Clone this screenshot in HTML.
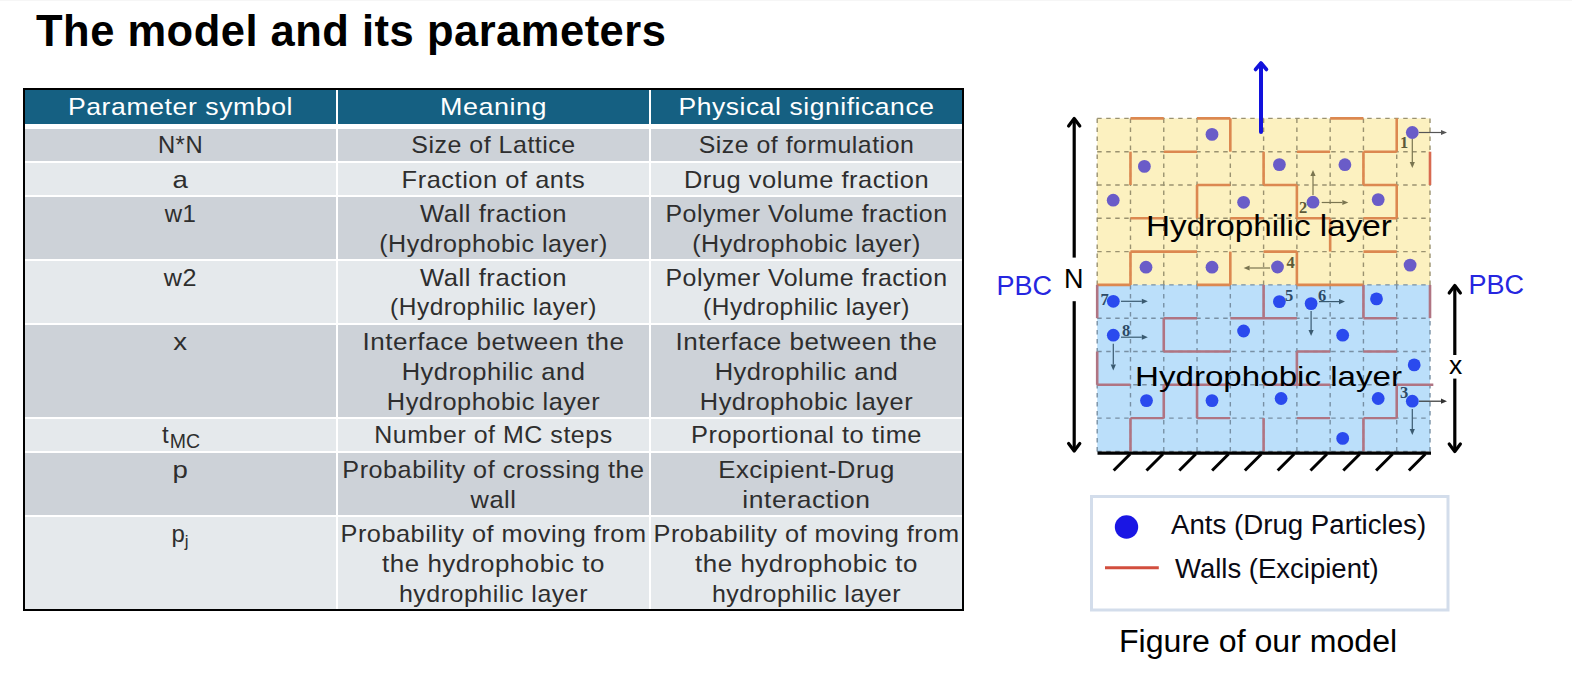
<!DOCTYPE html>
<html><head><meta charset="utf-8">
<style>
html,body{margin:0;padding:0;background:#fff;}
body{width:1572px;height:691px;position:relative;overflow:hidden;font-family:"Liberation Sans",sans-serif;}
.topline{position:absolute;left:0;top:0;width:1572px;height:1px;background:#f6f6f6;}
.title{position:absolute;left:35px;top:0px;font-weight:bold;font-size:45px;line-height:60px;letter-spacing:-0.25px;color:#000;white-space:nowrap;}
.tbl{position:absolute;left:23px;top:88px;width:937px;height:519px;border:2px solid #000;background:#fff;}
.band{position:absolute;left:0;width:937px;}
.vdiv{position:absolute;top:0;width:2px;height:519px;background:#fff;}
.cell{position:absolute;text-align:center;font-size:23.5px;line-height:30px;color:#111;white-space:nowrap;letter-spacing:0.9px;}
.hcell{color:#fff;}
</style></head><body>
<div class="topline"></div>

<div class="tbl">
<div class="band" style="top:0;height:34px;background:#156082"></div>
<div class="band" style="top:39px;height:32px;background:#CDD2D8"></div>
<div class="band" style="top:73px;height:32px;background:#E5E9EC"></div>
<div class="band" style="top:107px;height:62px;background:#CDD2D8"></div>
<div class="band" style="top:171px;height:62px;background:#E5E9EC"></div>
<div class="band" style="top:235px;height:92px;background:#CDD2D8"></div>
<div class="band" style="top:329px;height:32px;background:#E5E9EC"></div>
<div class="band" style="top:363px;height:62px;background:#CDD2D8"></div>
<div class="band" style="top:427px;height:92px;background:#E5E9EC"></div>
<div class="vdiv" style="left:311px"></div>
<div class="vdiv" style="left:624px"></div>
</div>
<svg style="position:absolute;left:0;top:0" width="1572" height="691" viewBox="0 0 1572 691">
<rect x="1097.2" y="118.4" width="332.8" height="166.5" fill="#FCF1C0"/>
<rect x="1097.2" y="284.9" width="332.8" height="166.5" fill="#BBDFFA"/>
<line x1="1097.2" y1="118.4" x2="1097.2" y2="284.9" stroke="#9A9270" stroke-width="1.4" stroke-dasharray="4.5 4.5"/>
<line x1="1097.2" y1="284.9" x2="1097.2" y2="451.4" stroke="#7890A4" stroke-width="1.4" stroke-dasharray="4.5 4.5"/>
<line x1="1130.48" y1="118.4" x2="1130.48" y2="284.9" stroke="#9A9270" stroke-width="1.4" stroke-dasharray="4.5 4.5"/>
<line x1="1130.48" y1="284.9" x2="1130.48" y2="451.4" stroke="#7890A4" stroke-width="1.4" stroke-dasharray="4.5 4.5"/>
<line x1="1163.76" y1="118.4" x2="1163.76" y2="284.9" stroke="#9A9270" stroke-width="1.4" stroke-dasharray="4.5 4.5"/>
<line x1="1163.76" y1="284.9" x2="1163.76" y2="451.4" stroke="#7890A4" stroke-width="1.4" stroke-dasharray="4.5 4.5"/>
<line x1="1197.04" y1="118.4" x2="1197.04" y2="284.9" stroke="#9A9270" stroke-width="1.4" stroke-dasharray="4.5 4.5"/>
<line x1="1197.04" y1="284.9" x2="1197.04" y2="451.4" stroke="#7890A4" stroke-width="1.4" stroke-dasharray="4.5 4.5"/>
<line x1="1230.3200000000002" y1="118.4" x2="1230.3200000000002" y2="284.9" stroke="#9A9270" stroke-width="1.4" stroke-dasharray="4.5 4.5"/>
<line x1="1230.3200000000002" y1="284.9" x2="1230.3200000000002" y2="451.4" stroke="#7890A4" stroke-width="1.4" stroke-dasharray="4.5 4.5"/>
<line x1="1263.6000000000001" y1="118.4" x2="1263.6000000000001" y2="284.9" stroke="#9A9270" stroke-width="1.4" stroke-dasharray="4.5 4.5"/>
<line x1="1263.6000000000001" y1="284.9" x2="1263.6000000000001" y2="451.4" stroke="#7890A4" stroke-width="1.4" stroke-dasharray="4.5 4.5"/>
<line x1="1296.88" y1="118.4" x2="1296.88" y2="284.9" stroke="#9A9270" stroke-width="1.4" stroke-dasharray="4.5 4.5"/>
<line x1="1296.88" y1="284.9" x2="1296.88" y2="451.4" stroke="#7890A4" stroke-width="1.4" stroke-dasharray="4.5 4.5"/>
<line x1="1330.16" y1="118.4" x2="1330.16" y2="284.9" stroke="#9A9270" stroke-width="1.4" stroke-dasharray="4.5 4.5"/>
<line x1="1330.16" y1="284.9" x2="1330.16" y2="451.4" stroke="#7890A4" stroke-width="1.4" stroke-dasharray="4.5 4.5"/>
<line x1="1363.44" y1="118.4" x2="1363.44" y2="284.9" stroke="#9A9270" stroke-width="1.4" stroke-dasharray="4.5 4.5"/>
<line x1="1363.44" y1="284.9" x2="1363.44" y2="451.4" stroke="#7890A4" stroke-width="1.4" stroke-dasharray="4.5 4.5"/>
<line x1="1396.72" y1="118.4" x2="1396.72" y2="284.9" stroke="#9A9270" stroke-width="1.4" stroke-dasharray="4.5 4.5"/>
<line x1="1396.72" y1="284.9" x2="1396.72" y2="451.4" stroke="#7890A4" stroke-width="1.4" stroke-dasharray="4.5 4.5"/>
<line x1="1430.0" y1="118.4" x2="1430.0" y2="284.9" stroke="#9A9270" stroke-width="1.4" stroke-dasharray="4.5 4.5"/>
<line x1="1430.0" y1="284.9" x2="1430.0" y2="451.4" stroke="#7890A4" stroke-width="1.4" stroke-dasharray="4.5 4.5"/>
<line x1="1097.2" y1="118.4" x2="1430.0" y2="118.4" stroke="#9A9270" stroke-width="1.4" stroke-dasharray="4.5 4.5"/>
<line x1="1097.2" y1="151.7" x2="1430.0" y2="151.7" stroke="#9A9270" stroke-width="1.4" stroke-dasharray="4.5 4.5"/>
<line x1="1097.2" y1="185.0" x2="1430.0" y2="185.0" stroke="#9A9270" stroke-width="1.4" stroke-dasharray="4.5 4.5"/>
<line x1="1097.2" y1="218.3" x2="1430.0" y2="218.3" stroke="#9A9270" stroke-width="1.4" stroke-dasharray="4.5 4.5"/>
<line x1="1097.2" y1="251.6" x2="1430.0" y2="251.6" stroke="#9A9270" stroke-width="1.4" stroke-dasharray="4.5 4.5"/>
<line x1="1097.2" y1="284.9" x2="1430.0" y2="284.9" stroke="#7890A4" stroke-width="1.4" stroke-dasharray="4.5 4.5"/>
<line x1="1097.2" y1="318.2" x2="1430.0" y2="318.2" stroke="#7890A4" stroke-width="1.4" stroke-dasharray="4.5 4.5"/>
<line x1="1097.2" y1="351.5" x2="1430.0" y2="351.5" stroke="#7890A4" stroke-width="1.4" stroke-dasharray="4.5 4.5"/>
<line x1="1097.2" y1="384.79999999999995" x2="1430.0" y2="384.79999999999995" stroke="#7890A4" stroke-width="1.4" stroke-dasharray="4.5 4.5"/>
<line x1="1097.2" y1="418.1" x2="1430.0" y2="418.1" stroke="#7890A4" stroke-width="1.4" stroke-dasharray="4.5 4.5"/>
<line x1="1097.2" y1="451.4" x2="1430.0" y2="451.4" stroke="#7890A4" stroke-width="1.4" stroke-dasharray="4.5 4.5"/>
<line x1="1130.48" y1="118.4" x2="1163.76" y2="118.4" stroke="#DC8850" stroke-width="2.6"/>
<line x1="1197.04" y1="118.4" x2="1230.3200000000002" y2="118.4" stroke="#DC8850" stroke-width="2.6"/>
<line x1="1330.16" y1="118.4" x2="1363.44" y2="118.4" stroke="#DC8850" stroke-width="2.6"/>
<line x1="1163.76" y1="151.7" x2="1197.04" y2="151.7" stroke="#DC8850" stroke-width="2.6"/>
<line x1="1296.88" y1="151.7" x2="1330.16" y2="151.7" stroke="#DC8850" stroke-width="2.6"/>
<line x1="1363.44" y1="151.7" x2="1396.72" y2="151.7" stroke="#DC8850" stroke-width="2.6"/>
<line x1="1197.04" y1="185.0" x2="1230.3200000000002" y2="185.0" stroke="#DC8850" stroke-width="2.6"/>
<line x1="1263.6000000000001" y1="185.0" x2="1296.88" y2="185.0" stroke="#DC8850" stroke-width="2.6"/>
<line x1="1363.44" y1="185.0" x2="1396.72" y2="185.0" stroke="#DC8850" stroke-width="2.6"/>
<line x1="1130.48" y1="218.3" x2="1163.76" y2="218.3" stroke="#DC8850" stroke-width="2.6"/>
<line x1="1230.3200000000002" y1="218.3" x2="1263.6000000000001" y2="218.3" stroke="#DC8850" stroke-width="2.6"/>
<line x1="1296.88" y1="218.3" x2="1330.16" y2="218.3" stroke="#DC8850" stroke-width="2.6"/>
<line x1="1363.44" y1="218.3" x2="1396.72" y2="218.3" stroke="#DC8850" stroke-width="2.6"/>
<line x1="1130.48" y1="251.6" x2="1197.04" y2="251.6" stroke="#DC8850" stroke-width="2.6"/>
<line x1="1263.6000000000001" y1="251.6" x2="1296.88" y2="251.6" stroke="#DC8850" stroke-width="2.6"/>
<line x1="1363.44" y1="251.6" x2="1396.72" y2="251.6" stroke="#DC8850" stroke-width="2.6"/>
<line x1="1097.2" y1="284.9" x2="1130.48" y2="284.9" stroke="#DC8850" stroke-width="2.6"/>
<line x1="1197.04" y1="284.9" x2="1230.3200000000002" y2="284.9" stroke="#DC8850" stroke-width="2.6"/>
<line x1="1296.88" y1="284.9" x2="1363.44" y2="284.9" stroke="#DC8850" stroke-width="2.6"/>
<line x1="1230.3200000000002" y1="118.4" x2="1230.3200000000002" y2="151.7" stroke="#DC8850" stroke-width="2.6"/>
<line x1="1396.72" y1="118.4" x2="1396.72" y2="151.7" stroke="#DC8850" stroke-width="2.6"/>
<line x1="1130.48" y1="151.7" x2="1130.48" y2="185.0" stroke="#DC8850" stroke-width="2.6"/>
<line x1="1263.6000000000001" y1="151.7" x2="1263.6000000000001" y2="185.0" stroke="#DC8850" stroke-width="2.6"/>
<line x1="1363.44" y1="151.7" x2="1363.44" y2="185.0" stroke="#DC8850" stroke-width="2.6"/>
<line x1="1197.04" y1="185.0" x2="1197.04" y2="218.3" stroke="#DC8850" stroke-width="2.6"/>
<line x1="1296.88" y1="185.0" x2="1296.88" y2="218.3" stroke="#DC8850" stroke-width="2.6"/>
<line x1="1396.72" y1="185.0" x2="1396.72" y2="218.3" stroke="#DC8850" stroke-width="2.6"/>
<line x1="1330.16" y1="218.3" x2="1330.16" y2="251.6" stroke="#DC8850" stroke-width="2.6"/>
<line x1="1130.48" y1="251.6" x2="1130.48" y2="284.9" stroke="#DC8850" stroke-width="2.6"/>
<line x1="1230.3200000000002" y1="251.6" x2="1230.3200000000002" y2="284.9" stroke="#DC8850" stroke-width="2.6"/>
<line x1="1296.88" y1="251.6" x2="1296.88" y2="284.9" stroke="#DC8850" stroke-width="2.6"/>
<line x1="1163.76" y1="318.2" x2="1197.04" y2="318.2" stroke="#B07482" stroke-width="2.4"/>
<line x1="1230.3200000000002" y1="318.2" x2="1296.88" y2="318.2" stroke="#B07482" stroke-width="2.4"/>
<line x1="1363.44" y1="318.2" x2="1396.72" y2="318.2" stroke="#B07482" stroke-width="2.4"/>
<line x1="1163.76" y1="351.5" x2="1230.3200000000002" y2="351.5" stroke="#B07482" stroke-width="2.4"/>
<line x1="1296.88" y1="351.5" x2="1330.16" y2="351.5" stroke="#B07482" stroke-width="2.4"/>
<line x1="1363.44" y1="351.5" x2="1396.72" y2="351.5" stroke="#B07482" stroke-width="2.4"/>
<line x1="1097.2" y1="384.79999999999995" x2="1130.48" y2="384.79999999999995" stroke="#B07482" stroke-width="2.4"/>
<line x1="1163.76" y1="384.79999999999995" x2="1230.3200000000002" y2="384.79999999999995" stroke="#B07482" stroke-width="2.4"/>
<line x1="1263.6000000000001" y1="384.79999999999995" x2="1330.16" y2="384.79999999999995" stroke="#B07482" stroke-width="2.4"/>
<line x1="1396.72" y1="384.79999999999995" x2="1433.328" y2="384.79999999999995" stroke="#B07482" stroke-width="2.4"/>
<line x1="1130.48" y1="418.1" x2="1163.76" y2="418.1" stroke="#B07482" stroke-width="2.4"/>
<line x1="1197.04" y1="418.1" x2="1230.3200000000002" y2="418.1" stroke="#B07482" stroke-width="2.4"/>
<line x1="1296.88" y1="418.1" x2="1330.16" y2="418.1" stroke="#B07482" stroke-width="2.4"/>
<line x1="1363.44" y1="418.1" x2="1396.72" y2="418.1" stroke="#B07482" stroke-width="2.4"/>
<line x1="1097.2" y1="284.9" x2="1097.2" y2="318.2" stroke="#B07482" stroke-width="2.6"/>
<line x1="1263.6000000000001" y1="284.9" x2="1263.6000000000001" y2="318.2" stroke="#B07482" stroke-width="2.6"/>
<line x1="1363.44" y1="284.9" x2="1363.44" y2="318.2" stroke="#B07482" stroke-width="2.6"/>
<line x1="1430.0" y1="284.9" x2="1430.0" y2="318.2" stroke="#B07482" stroke-width="2.6"/>
<line x1="1163.76" y1="318.2" x2="1163.76" y2="351.5" stroke="#B07482" stroke-width="2.6"/>
<line x1="1097.2" y1="351.5" x2="1097.2" y2="384.79999999999995" stroke="#B07482" stroke-width="2.6"/>
<line x1="1296.88" y1="351.5" x2="1296.88" y2="384.79999999999995" stroke="#B07482" stroke-width="2.6"/>
<line x1="1163.76" y1="384.79999999999995" x2="1163.76" y2="418.1" stroke="#B07482" stroke-width="2.6"/>
<line x1="1197.04" y1="384.79999999999995" x2="1197.04" y2="418.1" stroke="#B07482" stroke-width="2.6"/>
<line x1="1396.72" y1="384.79999999999995" x2="1396.72" y2="418.1" stroke="#B07482" stroke-width="2.6"/>
<line x1="1130.48" y1="418.1" x2="1130.48" y2="451.4" stroke="#B07482" stroke-width="2.6"/>
<line x1="1263.6000000000001" y1="418.1" x2="1263.6000000000001" y2="451.4" stroke="#B07482" stroke-width="2.6"/>
<line x1="1363.44" y1="418.1" x2="1363.44" y2="451.4" stroke="#B07482" stroke-width="2.6"/>
<line x1="1430.0" y1="151.7" x2="1430.0" y2="185.0" stroke="#D86A50" stroke-width="2.6"/>
<circle cx="1212.0" cy="134.4" r="6.4" fill="#6A5CC8"/>
<circle cx="1144.4" cy="166.4" r="6.4" fill="#6A5CC8"/>
<circle cx="1113.2" cy="200.2" r="6.4" fill="#6A5CC8"/>
<circle cx="1243.6" cy="202.3" r="6.4" fill="#6A5CC8"/>
<circle cx="1146.0" cy="267.2" r="6.4" fill="#6A5CC8"/>
<circle cx="1212.0" cy="267.2" r="6.4" fill="#6A5CC8"/>
<circle cx="1412.3" cy="132.5" r="6.4" fill="#6A5CC8"/>
<circle cx="1279.4" cy="164.6" r="6.4" fill="#6A5CC8"/>
<circle cx="1344.9" cy="164.7" r="6.4" fill="#6A5CC8"/>
<circle cx="1313" cy="202.2" r="6.4" fill="#6A5CC8"/>
<circle cx="1378.2" cy="199.6" r="6.4" fill="#6A5CC8"/>
<circle cx="1277.5" cy="267.0" r="6.4" fill="#6A5CC8"/>
<circle cx="1410.1" cy="265.1" r="6.4" fill="#6A5CC8"/>
<circle cx="1113.3" cy="301.3" r="6.4" fill="#2A4AEE"/>
<circle cx="1113.3" cy="335.2" r="6.4" fill="#2A4AEE"/>
<circle cx="1243.6" cy="331.0" r="6.4" fill="#2A4AEE"/>
<circle cx="1146.5" cy="400.6" r="6.4" fill="#2A4AEE"/>
<circle cx="1212.0" cy="400.6" r="6.4" fill="#2A4AEE"/>
<circle cx="1279.4" cy="301.6" r="6.4" fill="#2A4AEE"/>
<circle cx="1311.1" cy="303.6" r="6.4" fill="#2A4AEE"/>
<circle cx="1376.5" cy="298.9" r="6.4" fill="#2A4AEE"/>
<circle cx="1342.7" cy="335.2" r="6.4" fill="#2A4AEE"/>
<circle cx="1414.2" cy="364.9" r="6.4" fill="#2A4AEE"/>
<circle cx="1281.1" cy="398.5" r="6.4" fill="#2A4AEE"/>
<circle cx="1378.2" cy="398.5" r="6.4" fill="#2A4AEE"/>
<circle cx="1412.3" cy="401.2" r="6.4" fill="#2A4AEE"/>
<circle cx="1342.7" cy="438.4" r="6.4" fill="#2A4AEE"/>
<line x1="1419" y1="132.5" x2="1441.0" y2="132.5" stroke="#555" stroke-width="1.2"/><polygon points="1447,132.5 1441.0,135.1 1441.0,129.9" fill="#555"/>
<line x1="1412.3" y1="139" x2="1412.3" y2="162.0" stroke="#7A7550" stroke-width="1.2"/><polygon points="1412.3,168 1409.7,162.0 1414.8999999999999,162.0" fill="#7A7550"/>
<line x1="1313" y1="195" x2="1313.0" y2="176.0" stroke="#7A7550" stroke-width="1.2"/><polygon points="1313,170 1315.6,176.0 1310.4,176.0" fill="#7A7550"/>
<line x1="1321.7" y1="202.5" x2="1342.3" y2="202.5" stroke="#7A7550" stroke-width="1.2"/><polygon points="1348.3,202.5 1342.3,205.1 1342.3,199.9" fill="#7A7550"/>
<line x1="1270" y1="268" x2="1249.6" y2="268.0" stroke="#7A7550" stroke-width="1.2"/><polygon points="1243.6,268 1249.6,265.4 1249.6,270.6" fill="#7A7550"/>
<line x1="1121" y1="301.3" x2="1141.8" y2="301.3" stroke="#3A5A70" stroke-width="1.2"/><polygon points="1147.8,301.3 1141.8,303.90000000000003 1141.8,298.7" fill="#3A5A70"/>
<line x1="1121" y1="337.2" x2="1141.8" y2="337.2" stroke="#3A5A70" stroke-width="1.2"/><polygon points="1147.8,337.2 1141.8,339.8 1141.8,334.59999999999997" fill="#3A5A70"/>
<line x1="1113.3" y1="343.7" x2="1113.3" y2="364.4" stroke="#3A5A70" stroke-width="1.2"/><polygon points="1113.3,370.4 1110.7,364.4 1115.8999999999999,364.4" fill="#3A5A70"/>
<line x1="1319" y1="301.6" x2="1339.0" y2="301.6" stroke="#3A5A70" stroke-width="1.2"/><polygon points="1345,301.6 1339.0,304.20000000000005 1339.0,299.0" fill="#3A5A70"/>
<line x1="1311.1" y1="311" x2="1311.1" y2="330.0" stroke="#3A5A70" stroke-width="1.2"/><polygon points="1311.1,336 1308.5,330.0 1313.6999999999998,330.0" fill="#3A5A70"/>
<line x1="1419" y1="401.2" x2="1441.0" y2="401.2" stroke="#333" stroke-width="1.2"/><polygon points="1447,401.2 1441.0,403.8 1441.0,398.59999999999997" fill="#333"/>
<line x1="1412.3" y1="409" x2="1412.3" y2="429.0" stroke="#3A5A70" stroke-width="1.2"/><polygon points="1412.3,435 1409.7,429.0 1414.8999999999999,429.0" fill="#3A5A70"/>
<text x="1404.2" y="148" font-family="Liberation Serif" font-weight="bold" font-size="16.5" fill="#5E5A38" text-anchor="middle">1</text>
<text x="1303" y="213" font-family="Liberation Serif" font-weight="bold" font-size="16.5" fill="#5E5A38" text-anchor="middle">2</text>
<text x="1290.7" y="268" font-family="Liberation Serif" font-weight="bold" font-size="16.5" fill="#5E5A38" text-anchor="middle">4</text>
<text x="1104.7" y="304.6" font-family="Liberation Serif" font-weight="bold" font-size="16.5" fill="#2C4A66" text-anchor="middle">7</text>
<text x="1126" y="335.8" font-family="Liberation Serif" font-weight="bold" font-size="16.5" fill="#2C4A66" text-anchor="middle">8</text>
<text x="1289" y="301" font-family="Liberation Serif" font-weight="bold" font-size="16.5" fill="#2C4A66" text-anchor="middle">5</text>
<text x="1322" y="300.5" font-family="Liberation Serif" font-weight="bold" font-size="16.5" fill="#2C4A66" text-anchor="middle">6</text>
<text x="1404" y="398" font-family="Liberation Serif" font-weight="bold" font-size="16.5" fill="#2C4A66" text-anchor="middle">3</text>
<text x="36" y="45.5" font-family="Liberation Sans" font-weight="bold" font-size="43.5" letter-spacing="0.5" fill="#000">The model and its parameters</text>
<line x1="1261" y1="132" x2="1261" y2="64" stroke="#1212DC" stroke-width="4" stroke-linecap="round"/>
<polyline points="1255.5,69.5 1261,63 1266.5,69.5" fill="none" stroke="#1212DC" stroke-width="3.6" stroke-linecap="round" stroke-linejoin="round"/>
<line x1="1074.2" y1="120" x2="1074.2" y2="257.6" stroke="#000" stroke-width="3.2"/>
<polyline points="1068.6,126 1074.2,118.5 1079.8,126" fill="none" stroke="#000" stroke-width="3.2" stroke-linecap="round" stroke-linejoin="round"/>
<line x1="1074.2" y1="301.2" x2="1074.2" y2="450" stroke="#000" stroke-width="3.2"/>
<polyline points="1068.6,443.5 1074.2,451 1079.8,443.5" fill="none" stroke="#000" stroke-width="3.2" stroke-linecap="round" stroke-linejoin="round"/>
<line x1="1454.8" y1="287" x2="1454.8" y2="355" stroke="#000" stroke-width="3.2"/>
<polyline points="1449.2,293 1454.8,285.5 1460.4,293" fill="none" stroke="#000" stroke-width="3.2" stroke-linecap="round" stroke-linejoin="round"/>
<line x1="1454.8" y1="378.6" x2="1454.8" y2="450" stroke="#000" stroke-width="3.2"/>
<polyline points="1449.2,444 1454.8,451.5 1460.4,444" fill="none" stroke="#000" stroke-width="3.2" stroke-linecap="round" stroke-linejoin="round"/>
<line x1="1097.5" y1="453.1" x2="1431" y2="453.1" stroke="#000" stroke-width="3.2"/>
<line x1="1130.2" y1="454" x2="1113.7" y2="470.5" stroke="#000" stroke-width="3"/>
<line x1="1163.0" y1="454" x2="1146.5" y2="470.5" stroke="#000" stroke-width="3"/>
<line x1="1195.8" y1="454" x2="1179.3" y2="470.5" stroke="#000" stroke-width="3"/>
<line x1="1228.6000000000001" y1="454" x2="1212.1000000000001" y2="470.5" stroke="#000" stroke-width="3"/>
<line x1="1261.4" y1="454" x2="1244.9" y2="470.5" stroke="#000" stroke-width="3"/>
<line x1="1294.2" y1="454" x2="1277.7" y2="470.5" stroke="#000" stroke-width="3"/>
<line x1="1327.0" y1="454" x2="1310.5" y2="470.5" stroke="#000" stroke-width="3"/>
<line x1="1359.8" y1="454" x2="1343.3" y2="470.5" stroke="#000" stroke-width="3"/>
<line x1="1392.6" y1="454" x2="1376.1" y2="470.5" stroke="#000" stroke-width="3"/>
<line x1="1425.4" y1="454" x2="1408.9" y2="470.5" stroke="#000" stroke-width="3"/>
<text x="996.5" y="294.6" font-family="Liberation Sans" font-size="27" fill="#2626E0">PBC</text>
<text x="1468.5" y="293.7" font-family="Liberation Sans" font-size="27" fill="#2626E0">PBC</text>
<text x="1064" y="288" font-family="Liberation Sans" font-size="27" fill="#000">N</text>
<text x="1449" y="374" font-family="Liberation Sans" font-size="26.5" fill="#000">x</text>
<text x="1146" y="236.2" font-family="Liberation Sans" font-size="28.8" fill="#000" transform="translate(1146 0) scale(1.155 1) translate(-1146 0)">Hydrophilic layer</text>
<text x="1135" y="385.9" font-family="Liberation Sans" font-size="27.8" fill="#000" transform="translate(1135 0) scale(1.192 1) translate(-1135 0)">Hydrophobic layer</text>
<rect x="1091.5" y="496.5" width="356.5" height="113.5" fill="#fff" stroke="#D3DDEB" stroke-width="3"/>
<circle cx="1126.5" cy="527" r="11.7" fill="#1A16E4"/>
<line x1="1105" y1="567.8" x2="1158.8" y2="567.8" stroke="#D24E3E" stroke-width="3.1"/>
<text x="1171" y="533.8" font-family="Liberation Sans" font-size="28" fill="#0A0A14" transform="translate(1171 0) scale(0.988 1) translate(-1171 0)">Ants (Drug Particles)</text>
<text x="1175" y="578.4" font-family="Liberation Sans" font-size="27.5" fill="#0A0A14">Walls (Excipient)</text>
<text x="1119" y="651.9" font-family="Liberation Sans" font-size="30.8" fill="#000" transform="translate(1119 0) scale(1.042 1) translate(-1119 0)">Figure of our model</text>
<g font-family="Liberation Sans"><text x="180.5" y="115.4" text-anchor="middle" font-size="24" letter-spacing="0.5" fill="#fff" transform="translate(180.5 0) scale(1.111 1) translate(-180.5 0)">Parameter symbol</text>
<text x="493.5" y="115.4" text-anchor="middle" font-size="24" letter-spacing="0.5" fill="#fff" transform="translate(493.5 0) scale(1.122 1) translate(-493.5 0)">Meaning</text>
<text x="806.5" y="115.4" text-anchor="middle" font-size="24" letter-spacing="0.5" fill="#fff" transform="translate(806.5 0) scale(1.104 1) translate(-806.5 0)">Physical significance</text>
<text x="180.5" y="153.3" text-anchor="middle" font-size="24" letter-spacing="0.5" fill="#2e2e2e" transform="translate(180.5 0) scale(0.993 1) translate(-180.5 0)">N*N</text>
<text x="493.5" y="153.3" text-anchor="middle" font-size="24" letter-spacing="0.5" fill="#2e2e2e" transform="translate(493.5 0) scale(1.040 1) translate(-493.5 0)">Size of Lattice</text>
<text x="806.5" y="153.3" text-anchor="middle" font-size="24" letter-spacing="0.5" fill="#2e2e2e" transform="translate(806.5 0) scale(1.036 1) translate(-806.5 0)">Size of formulation</text>
<text x="180.5" y="187.6" text-anchor="middle" font-size="24" letter-spacing="0.5" fill="#2e2e2e" transform="translate(180.5 0) scale(1.150 1) translate(-180.5 0)">a</text>
<text x="493.5" y="187.6" text-anchor="middle" font-size="24" letter-spacing="0.5" fill="#2e2e2e" transform="translate(493.5 0) scale(1.060 1) translate(-493.5 0)">Fraction of ants</text>
<text x="806.5" y="187.6" text-anchor="middle" font-size="24" letter-spacing="0.5" fill="#2e2e2e" transform="translate(806.5 0) scale(1.060 1) translate(-806.5 0)">Drug volume fraction</text>
<text x="180.5" y="222.2" text-anchor="middle" font-size="24" letter-spacing="0.5" fill="#2e2e2e" transform="translate(180.5 0) scale(1.000 1) translate(-180.5 0)">w1</text>
<text x="493.5" y="222.2" text-anchor="middle" font-size="24" letter-spacing="0.5" fill="#2e2e2e" transform="translate(493.5 0) scale(1.068 1) translate(-493.5 0)">Wall fraction</text>
<text x="493.5" y="252.0" text-anchor="middle" font-size="24" letter-spacing="0.5" fill="#2e2e2e" transform="translate(493.5 0) scale(1.045 1) translate(-493.5 0)">(Hydrophobic layer)</text>
<text x="806.5" y="222.2" text-anchor="middle" font-size="24" letter-spacing="0.5" fill="#2e2e2e" transform="translate(806.5 0) scale(1.039 1) translate(-806.5 0)">Polymer Volume fraction</text>
<text x="806.5" y="252.0" text-anchor="middle" font-size="24" letter-spacing="0.5" fill="#2e2e2e" transform="translate(806.5 0) scale(1.045 1) translate(-806.5 0)">(Hydrophobic layer)</text>
<text x="180.5" y="285.7" text-anchor="middle" font-size="24" letter-spacing="0.5" fill="#2e2e2e" transform="translate(180.5 0) scale(1.050 1) translate(-180.5 0)">w2</text>
<text x="493.5" y="285.7" text-anchor="middle" font-size="24" letter-spacing="0.5" fill="#2e2e2e" transform="translate(493.5 0) scale(1.068 1) translate(-493.5 0)">Wall fraction</text>
<text x="493.5" y="315.5" text-anchor="middle" font-size="24" letter-spacing="0.5" fill="#2e2e2e" transform="translate(493.5 0) scale(1.020 1) translate(-493.5 0)">(Hydrophilic layer)</text>
<text x="806.5" y="285.7" text-anchor="middle" font-size="24" letter-spacing="0.5" fill="#2e2e2e" transform="translate(806.5 0) scale(1.039 1) translate(-806.5 0)">Polymer Volume fraction</text>
<text x="806.5" y="315.5" text-anchor="middle" font-size="24" letter-spacing="0.5" fill="#2e2e2e" transform="translate(806.5 0) scale(1.020 1) translate(-806.5 0)">(Hydrophilic layer)</text>
<text x="180.5" y="350.2" text-anchor="middle" font-size="24" letter-spacing="0.5" fill="#2e2e2e" transform="translate(180.5 0) scale(1.150 1) translate(-180.5 0)">x</text>
<text x="493.5" y="350.2" text-anchor="middle" font-size="24" letter-spacing="0.5" fill="#2e2e2e" transform="translate(493.5 0) scale(1.086 1) translate(-493.5 0)">Interface between the</text>
<text x="493.5" y="380.0" text-anchor="middle" font-size="24" letter-spacing="0.5" fill="#2e2e2e" transform="translate(493.5 0) scale(1.063 1) translate(-493.5 0)">Hydrophilic and</text>
<text x="493.5" y="409.8" text-anchor="middle" font-size="24" letter-spacing="0.5" fill="#2e2e2e" transform="translate(493.5 0) scale(1.057 1) translate(-493.5 0)">Hydrophobic layer</text>
<text x="806.5" y="350.2" text-anchor="middle" font-size="24" letter-spacing="0.5" fill="#2e2e2e" transform="translate(806.5 0) scale(1.086 1) translate(-806.5 0)">Interface between the</text>
<text x="806.5" y="380.0" text-anchor="middle" font-size="24" letter-spacing="0.5" fill="#2e2e2e" transform="translate(806.5 0) scale(1.063 1) translate(-806.5 0)">Hydrophilic and</text>
<text x="806.5" y="409.8" text-anchor="middle" font-size="24" letter-spacing="0.5" fill="#2e2e2e" transform="translate(806.5 0) scale(1.057 1) translate(-806.5 0)">Hydrophobic layer</text>
<text x="162.0" y="442.9" font-size="24" fill="#2e2e2e">t<tspan font-size="19.5" dy="5" dx="1">MC</tspan></text>
<text x="493.5" y="442.9" text-anchor="middle" font-size="24" letter-spacing="0.5" fill="#2e2e2e" transform="translate(493.5 0) scale(1.041 1) translate(-493.5 0)">Number of MC steps</text>
<text x="806.5" y="442.9" text-anchor="middle" font-size="24" letter-spacing="0.5" fill="#2e2e2e" transform="translate(806.5 0) scale(1.060 1) translate(-806.5 0)">Proportional to time</text>
<text x="180.5" y="478.3" text-anchor="middle" font-size="24" letter-spacing="0.5" fill="#2e2e2e" transform="translate(180.5 0) scale(1.150 1) translate(-180.5 0)">p</text>
<text x="493.5" y="478.3" text-anchor="middle" font-size="24" letter-spacing="0.5" fill="#2e2e2e" transform="translate(493.5 0) scale(1.049 1) translate(-493.5 0)">Probability of crossing the</text>
<text x="493.5" y="508.1" text-anchor="middle" font-size="24" letter-spacing="0.5" fill="#2e2e2e" transform="translate(493.5 0) scale(1.059 1) translate(-493.5 0)">wall</text>
<text x="806.5" y="478.3" text-anchor="middle" font-size="24" letter-spacing="0.5" fill="#2e2e2e" transform="translate(806.5 0) scale(1.075 1) translate(-806.5 0)">Excipient-Drug</text>
<text x="806.5" y="508.1" text-anchor="middle" font-size="24" letter-spacing="0.5" fill="#2e2e2e" transform="translate(806.5 0) scale(1.104 1) translate(-806.5 0)">interaction</text>
<text x="171.5" y="542.2" font-size="24" fill="#2e2e2e">p<tspan font-size="17" dy="5">j</tspan></text>
<text x="493.5" y="542.2" text-anchor="middle" font-size="24" letter-spacing="0.5" fill="#2e2e2e" transform="translate(493.5 0) scale(1.054 1) translate(-493.5 0)">Probability of moving from</text>
<text x="493.5" y="572.0" text-anchor="middle" font-size="24" letter-spacing="0.5" fill="#2e2e2e" transform="translate(493.5 0) scale(1.080 1) translate(-493.5 0)">the hydrophobic to</text>
<text x="493.5" y="601.8000000000001" text-anchor="middle" font-size="24" letter-spacing="0.5" fill="#2e2e2e" transform="translate(493.5 0) scale(1.040 1) translate(-493.5 0)">hydrophilic layer</text>
<text x="806.5" y="542.2" text-anchor="middle" font-size="24" letter-spacing="0.5" fill="#2e2e2e" transform="translate(806.5 0) scale(1.054 1) translate(-806.5 0)">Probability of moving from</text>
<text x="806.5" y="572.0" text-anchor="middle" font-size="24" letter-spacing="0.5" fill="#2e2e2e" transform="translate(806.5 0) scale(1.080 1) translate(-806.5 0)">the hydrophobic to</text>
<text x="806.5" y="601.8000000000001" text-anchor="middle" font-size="24" letter-spacing="0.5" fill="#2e2e2e" transform="translate(806.5 0) scale(1.040 1) translate(-806.5 0)">hydrophilic layer</text></g>
</svg>
</body></html>
